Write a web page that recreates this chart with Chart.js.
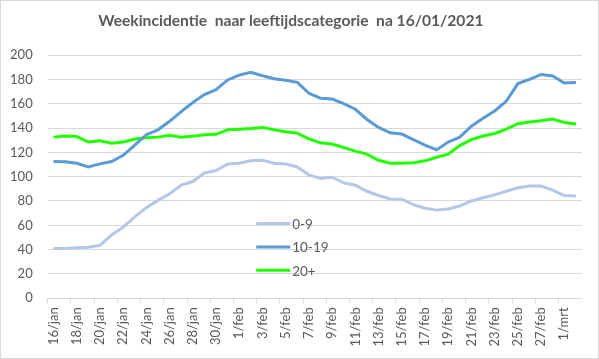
<!DOCTYPE html>
<html>
<head>
<meta charset="utf-8">
<script src="https://cdn.jsdelivr.net/npm/chart.js@4.4.1/dist/chart.umd.min.js"></script>
<style>
  html, body { margin: 0; padding: 0; background: #ffffff; }
  #wrap { width: 599px; height: 359px; }
</style>
</head>
<body>
<div id="wrap"><canvas id="c" width="599" height="359"></canvas></div>
<script>
const titleText = 'Weekincidentie  naar leeftijdscategorie  na 16/01/2021';

const dates = [
  '16/jan','17/jan','18/jan','19/jan','20/jan','21/jan','22/jan','23/jan','24/jan','25/jan',
  '26/jan','27/jan','28/jan','29/jan','30/jan','31/jan','1/feb','2/feb','3/feb','4/feb',
  '5/feb','6/feb','7/feb','8/feb','9/feb','10/feb','11/feb','12/feb','13/feb','14/feb',
  '15/feb','16/feb','17/feb','18/feb','19/feb','20/feb','21/feb','22/feb','23/feb','24/feb',
  '25/feb','26/feb','27/feb','28/feb','1/mrt','2/mrt'
];

const seriesNames = ['0-9', '10-19', '20+'];

const age0to9 = [
  41, 41, 41.5, 42, 43.5, 52, 58.5, 67, 74.5, 80.5,
  86, 93, 96, 103, 105, 110.5, 111, 113, 113.5, 111,
  110.5, 108, 101.5, 98.5, 99.5, 95, 93, 88, 84.5, 81.6,
  81.5, 77, 74, 72.5, 73.5, 75.9, 80, 82.7, 85, 88,
  90.9, 92.3, 92.3, 89, 84.5, 84.1
];

const age10to19 = [
  112.5, 112.3, 111, 108, 110.5, 112.5, 117.5, 126, 134.5, 138.5,
  145.5, 153.5, 161, 167.5, 171.5, 179.5, 183.5, 185.8, 183, 180.5,
  179.2, 177.5, 168.5, 164.5, 163.8, 160, 155.4, 147, 140.5, 136.1,
  135, 130.5, 126, 122, 128.5, 132.5, 141.5, 148, 154, 162,
  176.5, 180, 184, 182.7, 177, 177.5
];

const age20plus = [
  132.5, 133.5, 133, 128.5, 129.5, 127.5, 128.5, 131, 132, 132.5,
  134, 132.5, 133.2, 134.5, 134.8, 138.5, 139, 139.5, 140.5, 138.5,
  137, 135.8, 131, 127.8, 126.8, 124, 121, 118.5, 113.5, 111,
  111, 111.5, 113, 116, 118.5, 125.5, 130.5, 133.4, 135.5, 139,
  143.5, 145, 146, 147.4, 144.5, 143.3
];

const yTicks = [0, 20, 40, 60, 80, 100, 120, 140, 160, 180, 200];

const colors = ['#b4c7e7', '#5b9bd5', '#22ff00'];
const FONT = 'Lato, "Open Sans", sans-serif';
const TEXT = '#595959';
const GRID = '#d9d9d9';

const frame = {
  id: 'frame',
  beforeDraw(chart) {
    const ctx = chart.ctx;
    ctx.save();
    ctx.fillStyle = '#ffffff';
    ctx.fillRect(0, 0, chart.width, chart.height);
    ctx.strokeStyle = GRID;
    ctx.lineWidth = 1;
    ctx.strokeRect(0.5, 0.5, chart.width - 1, chart.height - 1);
    ctx.restore();
  }
};

const innerLegend = {
  id: 'innerLegend',
  afterDatasetsDraw(chart) {
    const ctx = chart.ctx;
    const a = chart.chartArea;
    const x0 = a.left + 208.5;
    const y0 = a.top + 168.5;
    ctx.save();
    ctx.font = '13.5px ' + FONT;
    ctx.textBaseline = 'middle';
    ctx.textAlign = 'left';
    chart.data.datasets.forEach((ds, i) => {
      const y = y0 + i * 23.4;
      ctx.strokeStyle = ds.borderColor;
      ctx.lineWidth = 3;
      ctx.beginPath();
      ctx.moveTo(x0, y);
      ctx.lineTo(x0 + 34, y);
      ctx.stroke();
      ctx.fillStyle = TEXT;
      ctx.fillText(ds.label, x0 + 36, y + 1);
    });
    ctx.restore();
  }
};

const sets = [age0to9, age10to19, age20plus];

new Chart(document.getElementById('c'), {
  type: 'line',
  data: {
    labels: dates,
    datasets: sets.map((d, i) => ({
      label: seriesNames[i],
      data: d,
      borderColor: colors[i],
      backgroundColor: colors[i],
      borderWidth: 3,
      pointRadius: 0,
      tension: 0,
      fill: false
    }))
  },
  options: {
    responsive: false,
    animation: false,
    devicePixelRatio: 1,
    layout: { padding: { left: 0, right: 17.3, top: 0, bottom: 0 } },
    plugins: {
      legend: { display: false },
      tooltip: { enabled: false },
      title: {
        display: true,
        text: titleText,
        color: TEXT,
        font: { family: FONT, size: 15.6, weight: 'bold', lineHeight: 1.2 },
        padding: { top: 12, bottom: 24.3 }
      }
    },
    scales: {
      x: {
        type: 'category',
        offset: true,
        afterFit(scale) { scale.height = 60.7; },
        border: { display: true, color: GRID, width: 1 },
        grid: {
          offset: true,
          drawOnChartArea: false,
          drawTicks: true,
          tickLength: 5,
          color: (ctx) => (ctx.index % 2 === 0 ? GRID : 'rgba(0,0,0,0)')
        },
        ticks: {
          autoSkip: false,
          maxRotation: 90,
          minRotation: 90,
          padding: 4,
          color: TEXT,
          font: { family: FONT, size: 13 },
          callback(value, index) { return index % 2 === 0 ? dates[index] : ''; }
        }
      },
      y: {
        min: yTicks[0],
        max: yTicks[yTicks.length - 1],
        afterFit(scale) { scale.width = 47.7; },
        afterBuildTicks(scale) { scale.ticks = yTicks.map(v => ({ value: v })); },
        border: { display: false },
        grid: { color: GRID, lineWidth: 1, drawTicks: false },
        ticks: {
          padding: 15,
          color: TEXT,
          font: { family: FONT, size: 13 }
        }
      }
    }
  },
  plugins: [frame, innerLegend]
});
</script>
</body>
</html>
